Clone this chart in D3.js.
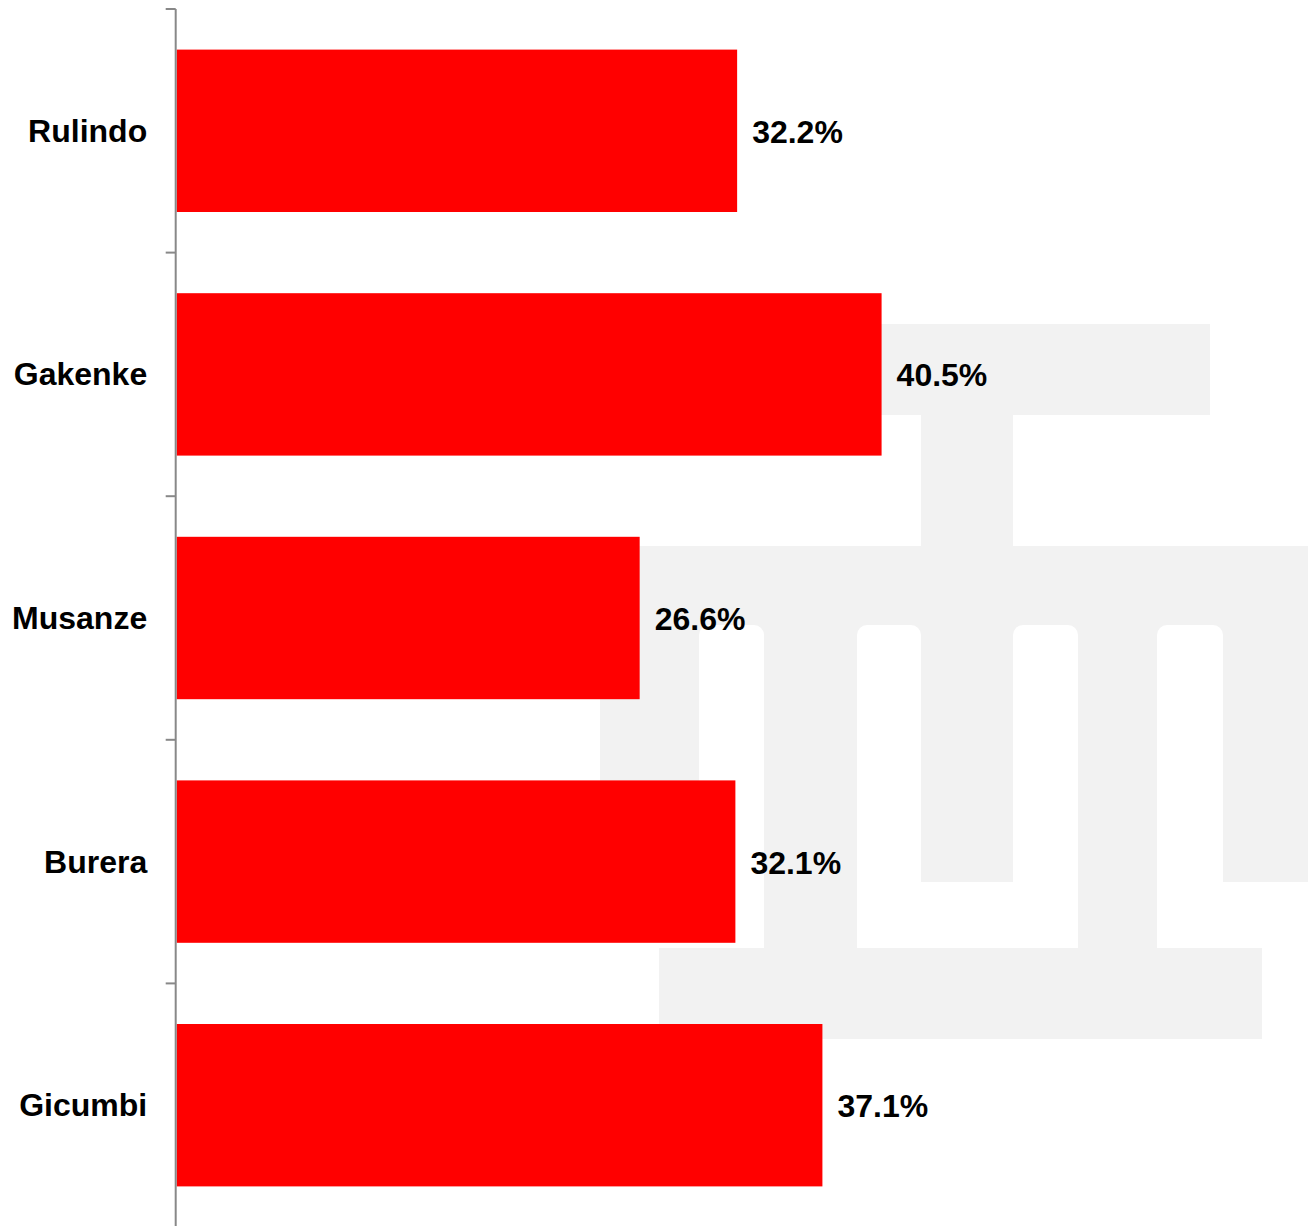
<!DOCTYPE html>
<html>
<head>
<meta charset="utf-8">
<script src="https://cdn.jsdelivr.net/npm/d3@7/dist/d3.min.js"></script>
<style>
  html, body { margin: 0; padding: 0; background: #fff; }
  svg { display: block; }
  text { font-family: "Liberation Sans", Arial, Helvetica, sans-serif; font-weight: bold; fill: #000; }
</style>
</head>
<body>
<svg id="chart" width="1308" height="1226"></svg>
<script>
// District shares (%)
const districts = ["Rulindo", "Gakenke", "Musanze", "Burera", "Gicumbi"];
const shares = [32.2, 40.5, 26.6, 32.1, 37.1];
const xDomain = [0, 65];

const W = 1308, H = 1226;
const fontSize = 32;
const svg = d3.select("#chart");

// Light grey logo in the background
const logo = svg.append("g").attr("class", "logo");
const grey = "#f2f2f2";
[
  [724, 324, 486, 91],   // top bar
  [921, 415, 92, 132],   // stem
  [600, 546, 730, 336],  // body
  [764, 881, 93, 68],    // left leg
  [1078, 881, 79, 68],   // right leg
  [659, 948, 603, 91]    // base
].forEach(([x, y, w, h]) => {
  logo.append("rect").attr("x", x).attr("y", y).attr("width", w).attr("height", h).attr("fill", grey);
});
[[699, 65], [857, 64], [1013, 65], [1157, 66]].forEach(([x, w]) => {
  logo.append("rect").attr("x", x).attr("y", 625).attr("width", w).attr("height", 280)
    .attr("rx", 10).attr("fill", "#fff");
});

const x0 = 176.7;
const x = d3.scaleLinear().domain(xDomain).range([x0, W]);
const y = d3.scaleBand().domain(districts).range([9, 1227]).paddingInner(1 / 3).paddingOuter(1 / 6);
const step = y.step();
const data = districts.map((d, i) => ({ name: d, value: shares[i] }));

// Bars
svg.append("g").selectAll("rect").data(data).join("rect")
  .attr("x", x(0))
  .attr("y", d => y(d.name))
  .attr("width", d => x(d.value) - x(0))
  .attr("height", y.bandwidth())
  .attr("fill", "#ff0000");

// Value labels
svg.append("g").selectAll("text").data(data).join("text")
  .attr("x", d => x(d.value) + 15)
  .attr("y", d => y(d.name) + y.bandwidth() / 2 + 12)
  .attr("font-size", fontSize)
  .text(d => d.value.toFixed(1) + "%");

// Category axis with ticks between categories
const axisG = svg.append("g").attr("transform", `translate(${x0 - 1},0)`);
axisG.call(d3.axisLeft(y).tickSizeInner(0).tickSizeOuter(0).tickPadding(28.5));
axisG.select(".domain").remove();
axisG.selectAll(".tick text")
  .attr("font-size", fontSize)
  .attr("font-family", null)
  .attr("fill", "#000")
  .attr("dy", null)
  .attr("y", 11);

const r0 = y.range()[0];
axisG.append("line")
  .attr("x1", 0).attr("x2", 0)
  .attr("y1", r0).attr("y2", H + 5)
  .attr("stroke", "#888").attr("stroke-width", 2);
axisG.selectAll(".bound").data(d3.range(districts.length + 1)).join("line")
  .attr("class", "bound")
  .attr("x1", -10).attr("x2", 0)
  .attr("y1", i => r0 + i * step).attr("y2", i => r0 + i * step)
  .attr("stroke", "#888").attr("stroke-width", 2);
</script>
</body>
</html>
